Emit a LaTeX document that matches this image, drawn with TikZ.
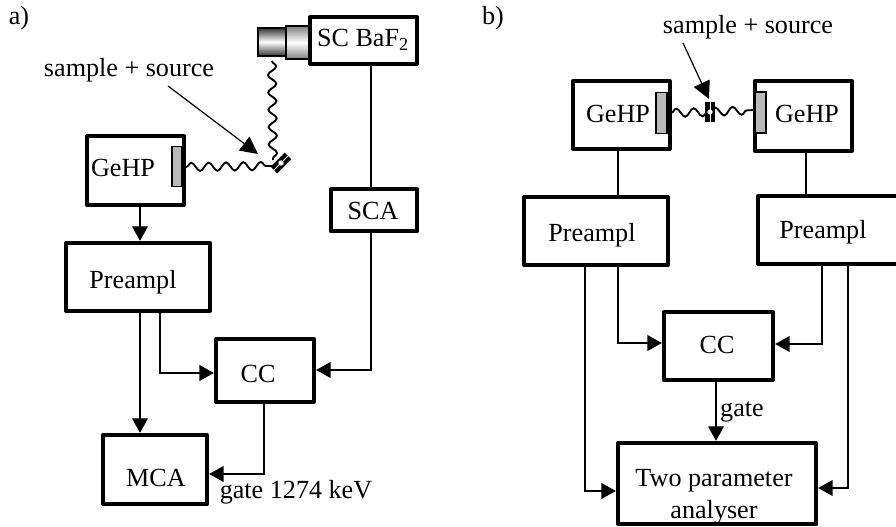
\documentclass[tikz,border=0pt]{standalone}
\usepackage{fontspec}
\setmainfont{Liberation Serif}
\usetikzlibrary{arrows.meta,decorations.pathmorphing}
\tikzset{
  box/.style={draw=black,line width=3pt,fill=white,inner sep=0pt,line join=round},
  txt/.style={inner sep=0pt,font=\fontsize{19.6}{23}\selectfont,text height=14pt,text depth=0pt},
  plain/.style={inner sep=0pt,font=\fontsize{19.6}{23}\selectfont},
  wire/.style={line width=2.1pt},
  arr/.style={line width=2.1pt,-{Triangle[length=11pt,width=11.5pt]}},
  thin arr/.style={line width=.9pt,-{Triangle[length=13pt,width=13pt]}},
  wave/.style={line width=1.4pt,decorate,decoration={snake,segment length=13pt,amplitude=3.1pt}},
  crystal/.style={draw=black,line width=1pt,fill=gray!55,inner sep=0pt},
  srcbar/.style={fill=black,inner sep=0pt,minimum width=15pt,minimum height=7pt},
  srcgap/.style={fill=white,inner sep=0pt,minimum width=15.5pt,minimum height=.6pt},
  srcdot/.style={circle,fill=white,inner sep=0pt,minimum size=4pt},
  pmt/.style={draw=black,line width=1pt,top color=black!80,bottom color=black!80,middle color=white,inner sep=0pt},
  pmtb/.style={draw=black,line width=1pt,top color=black!50,bottom color=black!50,middle color=white,inner sep=0pt}
}
\begin{document}
\begin{tikzpicture}[x=0.75pt,y=-0.75pt]
\useasboundingbox (0,0) rectangle (896,527);
% ---- panel a
\node[plain] (la) at (19,18) {a)};
\node[box,minimum width=72.75pt,minimum height=51.75pt] (geA) at (135.5,170.5) {};
\node[txt] (geAt) at (123,167) {GeHP};
\node[crystal,minimum width=7.5pt,minimum height=30pt] (crA) at (177,166.5) {};
\node[box,minimum width=108pt,minimum height=51pt] (preA) at (138,277) {};
\node[txt] (preAt) at (133,279) {Preampl};
\node[box,minimum width=73.5pt,minimum height=47.25pt] (ccA) at (265,370.5) {};
\node[txt] (ccAt) at (258,373) {CC};
\node[box,minimum width=78pt,minimum height=51.75pt] (mca) at (155,469.5) {};
\node[txt] (mcat) at (156,477) {MCA};
\node[pmt,minimum width=21pt,minimum height=21pt] (pmA) at (272,42) {};
\node[pmtb,minimum width=18pt,minimum height=24.75pt] (pmB) at (298,42.5) {};
\node[box,minimum width=80.25pt,minimum height=35.25pt] (sc) at (363.5,40.5) {};
\node[txt] (sct) at (363,37) {SC BaF\textsubscript{2}};
\node[box,minimum width=64.5pt,minimum height=31.5pt] (sca) at (374,210.5) {};
\node[txt] (scat) at (373,210) {SCA};
\coordinate (xa1) at (140,0);
\coordinate (xa2) at (160,0);
\coordinate (xa3) at (264,0);
\coordinate (xa4) at (371,0);
\coordinate (ya1) at (0,373);
\coordinate (ya2) at (0,370);
\coordinate (ya3) at (0,474);
\draw[wire] (sc.south -| xa4) -- (sca.north -| xa4);
\draw[arr] (sca.south -| xa4) |- (ccA.east |- ya2);
\draw[arr] (geA.south -| xa1) -- (preA.north -| xa1);
\draw[arr] (preA.south -| xa1) -- (mca.north -| xa1);
\draw[arr] (preA.south -| xa2) |- (ccA.west |- ya1);
\draw[arr] (ccA.south -| xa3) |- (mca.east |- ya3);
\node[plain] (gateA) at (296,492) {gate 1274 keV};
\node[plain] (ssA) at (129,70) {sample + source};
\coordinate (srcA) at (281,163);
\coordinate (wA1) at (186,167);
\coordinate (wA2) at (272,61);
\coordinate (wA3) at (272,166);
\coordinate (wA4) at (273,160);
\coordinate (tailA) at (168,86);
\coordinate (tipA) at (258,154);
\draw[wave] (wA1) -- (wA3);
\draw[wave] (wA2) -- (wA4);
\node[srcbar,rotate=45] (sbA) at (srcA) {};
\node[srcgap,rotate=45] (sgA) at (srcA) {};
\node[srcdot] (sdA) at (srcA) {};
\draw[thin arr] (tailA) -- (tipA);
% ---- panel b
\node[plain] (lb) at (493,18) {b)};
\node[plain] (ssB) at (748,27) {sample + source};
\node[box,minimum width=72.75pt,minimum height=51pt] (geB) at (621,115) {};
\node[txt] (geBt) at (618,113) {GeHP};
\node[crystal,minimum width=8.25pt,minimum height=30.75pt] (crB) at (661.5,113) {};
\node[box,minimum width=72.75pt,minimum height=52.5pt] (geC) at (803.5,116) {};
\node[txt] (geCt) at (807,113) {GeHP};
\node[crystal,minimum width=8.25pt,minimum height=30.75pt] (crC) at (760.5,112.5) {};
\node[box,minimum width=108pt,minimum height=51pt] (preB) at (596,231) {};
\node[txt] (preBt) at (592,232) {Preampl};
\node[box,minimum width=108pt,minimum height=51pt] (preC) at (830,230) {};
\node[txt] (preCt) at (823,229) {Preampl};
\node[box,minimum width=81.75pt,minimum height=51pt] (ccB) at (718.5,346) {};
\node[txt] (ccBt) at (717,344) {CC};
\node[box,minimum width=148.5pt,minimum height=60.75pt] (two) at (717,483.5) {};
\node[txt] (twot1) at (714,477) {Two parameter};
\node[txt] (twot2) at (714,509) {analyser};
\coordinate (xb1) at (618,0);
\coordinate (xb2) at (585,0);
\coordinate (xb3) at (806,0);
\coordinate (xb4) at (822,0);
\coordinate (xb5) at (848,0);
\coordinate (xb6) at (716,0);
\coordinate (yb1) at (0,343);
\coordinate (yb2) at (0,491);
\coordinate (yb3) at (0,344);
\coordinate (yb4) at (0,488);
\draw[wire] (geB.south -| xb1) -- (preB.north -| xb1);
\draw[wire] (geC.south -| xb3) -- (preC.north -| xb3);
\draw[arr] (preB.south -| xb1) |- (ccB.west |- yb1);
\draw[arr] (preB.south -| xb2) |- (two.west |- yb2);
\draw[arr] (preC.south -| xb4) |- (ccB.east |- yb3);
\draw[arr] (preC.south -| xb5) |- (two.east |- yb4);
\draw[arr] (ccB.south -| xb6) -- (two.north -| xb6);
\node[plain] (gateB) at (742,412) {gate};
\coordinate (srcB) at (710,112);
\coordinate (wB1) at (671,113);
\coordinate (wB2) at (755,110);
\coordinate (tailB) at (683,43);
\coordinate (tipB) at (709,99);
\draw[wave] (wB1) -- (srcB);
\draw[wave] (srcB) -- (wB2);
\node[srcbar,rotate=90] (sbB) at (srcB) {};
\node[srcgap,rotate=90] (sgB) at (srcB) {};
\node[srcdot] (sdB) at (srcB) {};
\draw[thin arr] (tailB) -- (tipB);
\end{tikzpicture}
\end{document}
